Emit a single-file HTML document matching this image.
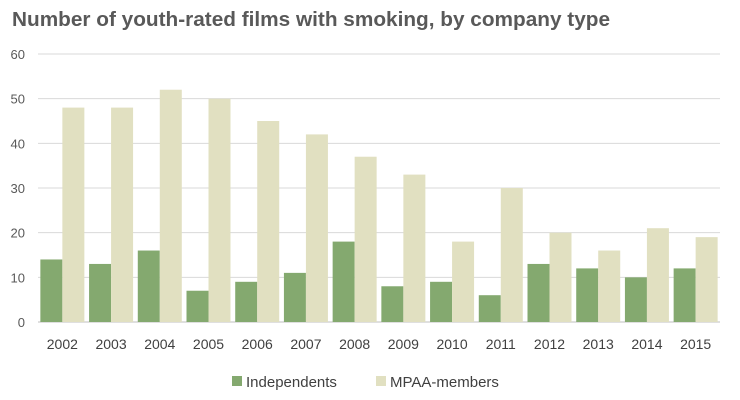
<!DOCTYPE html>
<html><head><meta charset="utf-8"><style>
body{margin:0;background:#fff;font-family:"Liberation Sans",sans-serif;}
#wrap{position:relative;width:740px;height:400px;overflow:hidden;}
</style></head><body>
<div id="wrap">
<svg id="svg" width="740" height="400" xmlns="http://www.w3.org/2000/svg">
<text x="12" y="26" textLength="598" lengthAdjust="spacingAndGlyphs" font-family="Liberation Sans, sans-serif" font-weight="bold" font-size="20" fill="#595959">Number of youth-rated films with smoking, by company type</text>
</svg>
</div>
<script>
const categories=["2002","2003","2004","2005","2006","2007","2008","2009","2010","2011","2012","2013","2014","2015"];
const independents=[14,13,16,7,9,11,18,8,9,6,13,12,10,12];
const mpaaMembers=[48,48,52,50,45,42,37,33,18,30,20,16,21,19];
const yTicks=[0,10,20,30,40,50,60];
const svg=document.getElementById('svg');
const NS="http://www.w3.org/2000/svg";
const x0=38,x1=720,y0=322,y1=54,ymax=60;
const band=(x1-x0)/categories.length;
function yScale(v){return y0-(v/ymax)*(y0-y1);}
function xBand(i){return x0+i*band;}
function mk(tag,attrs){const e=document.createElementNS(NS,tag);for(const k in attrs)e.setAttribute(k,attrs[k]);svg.appendChild(e);return e;}
yTicks.forEach(t=>{
  const y=yScale(t);
  const l=mk('line',{x1:x0,x2:x1,y1:y,y2:y,stroke:t===0?'#bfbfbf':'#d9d9d9','stroke-width':1});
  
  
  const tx=mk('text',{x:25,y:y+5,'text-anchor':'end','font-size':13,fill:'#595959','font-family':'Liberation Sans, sans-serif'});
  tx.textContent=t;
  
  
});
const bw=22;
categories.forEach((c,i)=>{
  const cx=xBand(i)+band/2;
  const a=mk('rect',{x:cx-bw,y:yScale(independents[i]),width:bw,height:y0-yScale(independents[i]),fill:'#84a96f'});
  
  
  const b=mk('rect',{x:cx,y:yScale(mpaaMembers[i]),width:bw,height:y0-yScale(mpaaMembers[i]),fill:'#e1e0c1'});
  
  
  const t=mk('text',{x:cx,y:349,'text-anchor':'middle','font-size':14,fill:'#404040','font-family':'Liberation Sans, sans-serif'});
  t.textContent=c;
  
  
});
const l1=mk('rect',{x:232,y:376,width:10,height:10,fill:'#84a96f'});


const t1=mk('text',{x:246,y:387,'font-size':15,fill:'#404040','font-family':'Liberation Sans, sans-serif'});
t1.textContent='Independents';


const l2=mk('rect',{x:376,y:376,width:10,height:10,fill:'#e1e0c1'});


const t2=mk('text',{x:390,y:387,'font-size':15,fill:'#404040','font-family':'Liberation Sans, sans-serif'});
t2.textContent='MPAA-members';


</script>
</body></html>
